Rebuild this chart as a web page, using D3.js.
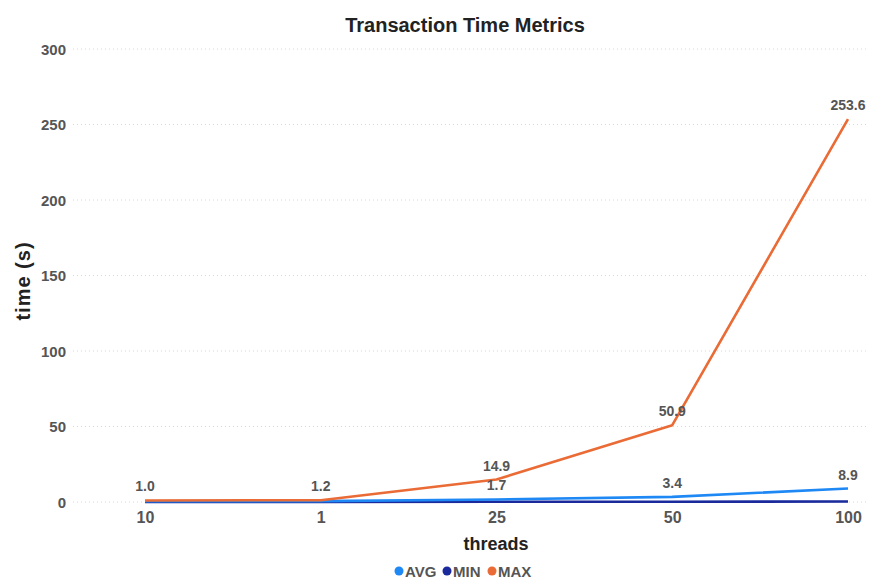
<!DOCTYPE html>
<html><head><meta charset="utf-8">
<script src="https://cdn.jsdelivr.net/npm/d3@7"></script>
<style>body{margin:0;background:#fff}svg{display:block;font-family:"Liberation Sans",Arial,sans-serif}</style>
</head><body><svg id="c" width="870" height="581"></svg>
<script>
const categories = ["10", "1", "25", "50", "100"];
const avgValues = [0.5, 0.6, 1.7, 3.4, 8.9];
const minValues = [0.1, 0.1, 0.2, 0.2, 0.3];
const maxValues = [1.0, 1.2, 14.9, 50.9, 253.6];
const yTicks = [0, 50, 100, 150, 200, 250, 300];
const seriesNames = ["AVG", "MIN", "MAX"];
const seriesColors = ["#1e88f5", "#1a2a9c", "#ea6b35"];
// which labels are displayed (overlapping ones hidden in the original)
const avgLabelShown = [false, false, true, true, true];
const maxLabelShown = [true, true, true, true, true];

const svg = d3.select("#c");
const x = d3.scalePoint().domain(categories).range([145, 848]);
const y = d3.scaleLinear().domain([0, 300]).range([502, 49]);
const gridLeft = 73, gridRight = 866;

// title
svg.append("text").attr("x", 465).attr("y", 32).attr("text-anchor", "middle")
  .attr("font-size", 20).attr("font-weight", "bold").attr("fill", "#222").text("Transaction Time Metrics");

// grid
svg.append("g").selectAll("line").data(yTicks).join("line")
  .attr("x1", gridLeft).attr("x2", gridRight).attr("y1", d => y(d)).attr("y2", d => y(d))
  .attr("stroke", "#d8d8d8").attr("stroke-width", 1).attr("stroke-dasharray", "1,3");

// y axis
const yAxis = svg.append("g").attr("transform", `translate(${gridLeft},0)`)
  .call(d3.axisLeft(y).tickValues(yTicks).tickSize(0).tickPadding(7));
yAxis.select(".domain").remove();
yAxis.selectAll("text").attr("font-size", 15).attr("font-weight", "bold").attr("fill", "#555")
  .attr("font-family", "Liberation Sans, Arial, sans-serif").attr("dy", "0.35em");

// x axis
const xAxis = svg.append("g").attr("transform", `translate(0,${y(0)})`)
  .call(d3.axisBottom(x).tickSize(0).tickPadding(10));
xAxis.select(".domain").remove();
xAxis.selectAll("text").attr("font-size", 16).attr("font-weight", "bold").attr("fill", "#555")
  .attr("font-family", "Liberation Sans, Arial, sans-serif");

// axis titles
svg.append("text").attr("x", 496).attr("y", 550).attr("text-anchor", "middle")
  .attr("font-size", 18).attr("font-weight", "bold").attr("fill", "#222").text("threads");
svg.append("text").attr("transform", "translate(30,281) rotate(-90)").attr("text-anchor", "middle")
  .attr("font-size", 20).attr("font-weight", "bold").attr("fill", "#222").attr("letter-spacing", 1)
  .text("time (s)");

// lines
const line = d3.line().x((d, i) => x(categories[i])).y(d => y(d));
const allSeries = [avgValues, minValues, maxValues];
[1, 0, 2].forEach(k => {
  svg.append("path").attr("d", line(allSeries[k])).attr("fill", "none")
    .attr("stroke", seriesColors[k]).attr("stroke-width", 2.6).attr("stroke-linejoin", "round");
});

// labels
function labels(vals, shown) {
  const pts = vals.map((v, i) => ({v, c: categories[i], show: shown[i]})).filter(p => p.show);
  svg.append("g").selectAll("text").data(pts).join("text")
    .attr("x", p => x(p.c)).attr("y", p => y(p.v) - 9)
    .attr("text-anchor", "middle").attr("font-size", 14).attr("font-weight", "bold").attr("fill", "#555")
    .text(p => p.v.toFixed(1));
}
labels(avgValues, avgLabelShown);
labels(maxValues, maxLabelShown);

// legend
const leg = svg.append("g");
const legItems = [{x: 399}, {x: 447}, {x: 492}];
seriesNames.forEach((n, i) => {
  const g = leg.append("g").attr("transform", `translate(${legItems[i].x},571)`);
  g.append("circle").attr("cx", 0).attr("cy", 0).attr("r", 4.5).attr("fill", seriesColors[i]);
  g.append("text").attr("x", 6).attr("y", 5.5).attr("font-size", 15).attr("font-weight", "bold")
    .attr("fill", "#555").text(n);
});
</script></body></html>
